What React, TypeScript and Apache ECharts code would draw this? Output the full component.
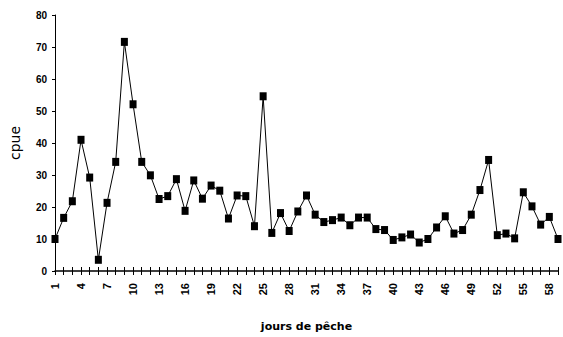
import React, { useEffect, useRef } from "react";
import * as echarts from "echarts";

const days: string[] = Array.from({ length: 59 }, (_, i) => String(i + 1));
const cpue: number[] = [
  10.0, 16.6, 21.8, 41.0, 29.2, 3.5, 21.3, 34.1, 71.6, 52.1,
  34.1, 29.9, 22.5, 23.4, 28.7, 18.8, 28.3, 22.6, 26.7, 25.1,
  16.4, 23.6, 23.4, 14.0, 54.6, 11.9, 18.1, 12.5, 18.6, 23.6,
  17.6, 15.3, 15.9, 16.7, 14.3, 16.7, 16.7, 13.1, 12.8, 9.7,
  10.5, 11.4, 8.9, 10.0, 13.6, 17.1, 11.7, 12.8, 17.6, 25.3,
  34.7, 11.2, 11.7, 10.2, 24.6, 20.2, 14.5, 16.9, 10.0,
];
const yTitle = "cpue";
const xTitle = "jours de pêche";

export default function App() {
  const ref = useRef<HTMLDivElement>(null);
  useEffect(() => {
    if (!ref.current) return;
    const chart = echarts.init(ref.current, undefined, { renderer: "svg" });
    chart.setOption({
      animation: false,
      backgroundColor: "#ffffff",
      grid: { left: 51, right: 5, top: 15, bottom: 62, containLabel: false },
      xAxis: [
        {
          type: "category",
          data: days,
          boundaryGap: false,
          position: "bottom",
          axisLine: { lineStyle: { color: "#000", width: 1.5 } },
          axisTick: { interval: 0, length: 4, lineStyle: { color: "#000" } },
          axisLabel: {
            interval: 2,
            rotate: 90,
            margin: 12,
            color: "#000",
            fontSize: 11,
            fontWeight: "bold",
            fontFamily: "Liberation Sans",
          },
          name: xTitle,
          nameLocation: "middle",
          nameGap: 50,
          nameTextStyle: {
            color: "#000",
            fontSize: 11,
            fontWeight: "bold",
            fontFamily: "DejaVu Sans",
          },
        },
        {
          type: "category",
          data: days,
          boundaryGap: false,
          position: "bottom",
          axisLine: { show: false },
          axisTick: { show: true, inside: true, interval: 0, length: 4, lineStyle: { color: "#000" } },
          axisLabel: { show: false },
        },
      ],
      yAxis: {
        type: "value",
        min: 0,
        max: 80,
        interval: 10,
        axisLine: { show: true, lineStyle: { color: "#000", width: 1 } },
        axisTick: { show: true, length: 3, lineStyle: { color: "#000" } },
        splitLine: { show: false },
        axisLabel: {
          margin: 8,
          color: "#000",
          fontSize: 10,
          fontWeight: "bold",
          fontFamily: "Liberation Sans",
        },
        name: yTitle,
        nameLocation: "middle",
        nameGap: 33,
        nameTextStyle: {
          color: "#000",
          fontSize: 14,
          fontFamily: "DejaVu Sans",
        },
      },
      series: [
        {
          type: "line",
          data: cpue,
          xAxisIndex: 0,
          symbol: "rect",
          symbolSize: [7, 8],
          showAllSymbol: true,
          itemStyle: { color: "#000" },
          lineStyle: { color: "#000", width: 1 },
        },
      ],
    });
    return () => chart.dispose();
  }, []);
  return (
    <div
      ref={ref}
      style={{ position: "fixed", left: 0, top: 0, width: 563, height: 337 }}
    />
  );
}
